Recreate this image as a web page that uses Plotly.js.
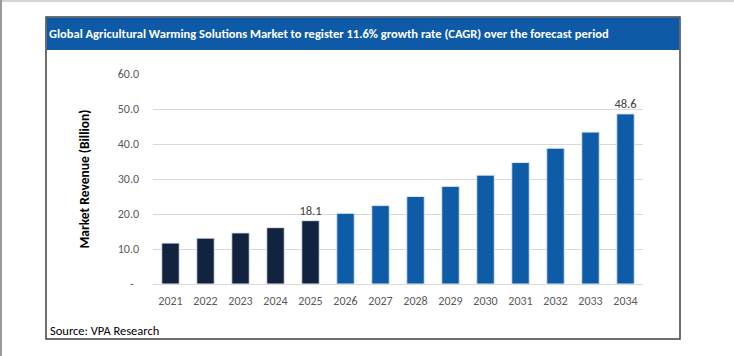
<!DOCTYPE html>
<html>
<head>
<meta charset="utf-8">
<script src="https://cdn.plot.ly/plotly-3.0.1.min.js"></script>
<style>
  html, body { margin: 0; padding: 0; background: #ffffff; }
  #wrap { position: relative; width: 734px; height: 356px; overflow: hidden; }
  #chart { width: 734px; height: 356px; }
  #edgeTop { position: absolute; left: 0; top: 0; width: 734px; height: 2px; background: #d4d4d4; }
  #edgeLeft { position: absolute; left: 0; top: 0; width: 2px; height: 356px; background: #9a9a9a; }
</style>
</head>
<body>
<div id="wrap">
  <div id="chart"></div>
  <div id="edgeTop"></div>
  <div id="edgeLeft"></div>
</div>
<script>
// ---- Data ----
const historicalYears = ['2021', '2022', '2023', '2024', '2025'];
const historicalValues = [11.7, 13.1, 14.6, 16.1, 18.1];
const forecastYears = ['2026', '2027', '2028', '2029', '2030', '2031', '2032', '2033', '2034'];
const forecastValues = [20.2, 22.4, 25.0, 27.9, 31.1, 34.7, 38.8, 43.4, 48.6];
const labelledYears = ['2025', '2034'];
const yTickValues = [0, 10, 20, 30, 40, 50, 60];
const yTickLabels = ['-\u00a0\u00a0', '10.0', '20.0', '30.0', '40.0', '50.0', '60.0'];
const chartTitle = 'Global Agricultural Warming Solutions Market to register 11.6% growth rate (CAGR) over the forecast period';
const yAxisTitle = 'Market Revenue (Billion)';
const sourceText = 'Source: VPA Research';

const FONT = "Carlito, Calibri, 'Liberation Sans Narrow', 'Liberation Sans', sans-serif";

function labelsFor(years, values) {
  return years.map((y, i) => labelledYears.includes(y) ? values[i].toFixed(1) : '');
}

const traceHist = {
  type: 'bar',
  x: historicalYears,
  y: historicalValues,
  text: labelsFor(historicalYears, historicalValues),
  textposition: 'outside',
  constraintext: 'none',
  cliponaxis: false,
  textfont: { family: FONT, size: 12.5, color: '#404040' },
  marker: { color: '#12233f', line: { color: '#dfe7f1', width: 1 } },
  hoverinfo: 'skip',
  showlegend: false
};
const traceFore = {
  type: 'bar',
  x: forecastYears,
  y: forecastValues,
  text: labelsFor(forecastYears, forecastValues),
  textposition: 'outside',
  constraintext: 'none',
  cliponaxis: false,
  textfont: { family: FONT, size: 12.5, color: '#404040' },
  marker: { color: '#0e5ba8', line: { color: '#dfe7f1', width: 1 } },
  hoverinfo: 'skip',
  showlegend: false
};

// plot area: x 153..643, y 74..284 (pixels)
const L = 153, R = 643, T = 74, B = 284;
const px = v => (v - L) / (R - L);
const py = v => (B - v) / (B - T);

const layout = {
  width: 734,
  height: 356,
  margin: { l: L, r: 734 - R, t: T, b: 356 - B, pad: 0 },
  paper_bgcolor: '#ffffff',
  plot_bgcolor: '#ffffff',
  barmode: 'overlay',
  bargap: 0.5,
  font: { family: FONT, size: 12, color: '#595959' },
  title: {
    text: chartTitle,
    font: { family: FONT, size: 12.5, color: '#ffffff', weight: 'bold' },
    x: 49 / 734, xanchor: 'left', xref: 'container',
    y: 1 - 34 / 356, yanchor: 'middle', yref: 'container'
  },
  xaxis: {
    type: 'category',
    categoryorder: 'array',
    categoryarray: historicalYears.concat(forecastYears),
    showgrid: false,
    showline: false,
    zeroline: false,
    ticks: '',
    ticklabelstandoff: 8,
    tickfont: { family: FONT, size: 12, color: '#595959' }
  },
  yaxis: {
    range: [0, 60],
    tickvals: yTickValues,
    ticktext: yTickLabels,
    showgrid: true,
    gridcolor: '#d9d9d9',
    gridwidth: 1,
    zeroline: true,
    zerolinecolor: '#d9d9d9',
    zerolinewidth: 1,
    showline: false,
    ticks: '',
    ticklabelstandoff: 13,
    tickfont: { family: FONT, size: 12, color: '#595959' },
    title: {
      text: yAxisTitle,
      font: { family: FONT, size: 13.5, color: '#000000', weight: 'bold' },
      standoff: 24
    }
  },
  shapes: [
    { type: 'rect', xref: 'paper', yref: 'paper', layer: 'below',
      x0: px(46), x1: px(680), y0: py(17), y1: py(339),
      line: { color: '#404040', width: 1.5 }, fillcolor: 'rgba(0,0,0,0)' },
    { type: 'rect', xref: 'paper', yref: 'paper', layer: 'below',
      x0: px(46.75), x1: px(679.25), y0: py(17.75), y1: py(50),
      line: { width: 0 }, fillcolor: '#0e5aa7' }
  ],
  annotations: [
    { text: sourceText, xref: 'paper', yref: 'paper', x: px(48), y: py(330),
      xanchor: 'left', yanchor: 'middle', showarrow: false,
      font: { family: FONT, size: 12.5, color: '#000000' } }
  ]
};

Plotly.newPlot('chart', [traceHist, traceFore], layout, { displayModeBar: false, staticPlot: true });
</script>
</body>
</html>
